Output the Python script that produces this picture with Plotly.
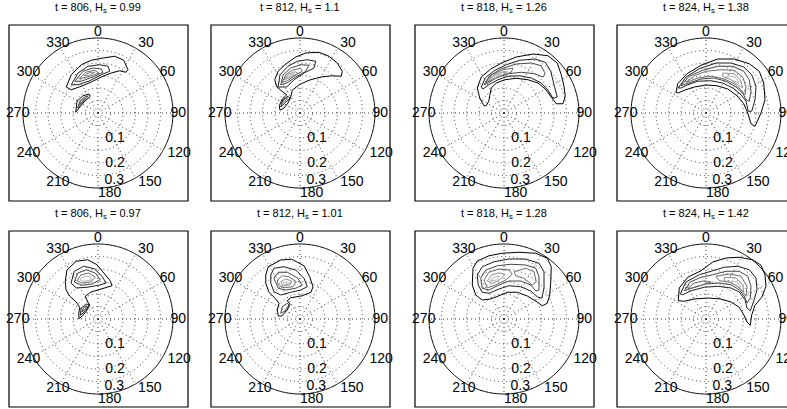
import numpy as np
import plotly.graph_objects as go

# ---------------- data ----------------
titles = [
    "t = 806, H<sub>s</sub> = 0.99", "t = 812, H<sub>s</sub> = 1.1",
    "t = 818, H<sub>s</sub> = 1.26", "t = 824, H<sub>s</sub> = 1.38",
    "t = 806, H<sub>s</sub> = 0.97", "t = 812, H<sub>s</sub> = 1.01",
    "t = 818, H<sub>s</sub> = 1.28", "t = 824, H<sub>s</sub> = 1.42",
]
direction_ticks = list(range(0, 360, 30))
freq_grid = [0.05, 0.1, 0.15, 0.2, 0.25]
freq_label_values = [0.1, 0.2, 0.3]
freq_max = 0.3

# contour vertices: (level index, east component fx [Hz], north component fy [Hz])
contours_806a = [
    (0, [-0.127, -0.107, -0.067, -0.027, 0.020, 0.067, 0.103, 0.120, 0.111, 0.087, 0.053, 0.013, -0.027, -0.067, -0.107, -0.127],
        [0.104, 0.153, 0.193, 0.211, 0.220, 0.227, 0.211, 0.173, 0.163, 0.169, 0.160, 0.144, 0.124, 0.107, 0.093, 0.104]),
    (1, [-0.107, -0.080, -0.040, 0.007, 0.040, 0.047, 0.013, -0.033, -0.080, -0.107],
        [0.113, 0.160, 0.187, 0.193, 0.187, 0.167, 0.153, 0.129, 0.113, 0.113]),
    (2, [-0.093, -0.060, -0.020, 0.013, 0.020, -0.020, -0.067, -0.093],
        [0.127, 0.167, 0.180, 0.176, 0.163, 0.144, 0.127, 0.127]),
    (3, [-0.076, -0.049, -0.013, 0.003, -0.031, -0.076],
        [0.137, 0.163, 0.171, 0.160, 0.147, 0.137]),
    (4, [-0.057, -0.036, -0.013, -0.033, -0.057],
        [0.149, 0.161, 0.163, 0.152, 0.149]),
    (0, [-0.089, -0.084, -0.060, -0.036, -0.031, -0.053, -0.073, -0.089],
        [0.003, 0.047, 0.069, 0.076, 0.067, 0.047, 0.024, 0.003]),
    (2, [-0.081, -0.073, -0.053, -0.041, -0.060, -0.081],
        [0.020, 0.047, 0.064, 0.067, 0.044, 0.020]),
    (3, [-0.076, -0.065, -0.052, -0.063, -0.076],
        [0.033, 0.051, 0.059, 0.043, 0.033]),
]
contours_812a = [
    (0, [-0.080, -0.083, -0.071, -0.053, -0.067, -0.093, -0.101, -0.088, -0.057, -0.017, 0.023, 0.076, 0.116, 0.149, 0.169, 0.165, 0.129, 0.083, 0.036, -0.004, -0.031, -0.037, -0.048, -0.064, -0.080],
        [0.011, 0.029, 0.056, 0.073, 0.083, 0.104, 0.133, 0.167, 0.196, 0.224, 0.240, 0.243, 0.227, 0.200, 0.167, 0.147, 0.149, 0.144, 0.131, 0.113, 0.091, 0.064, 0.040, 0.020, 0.011]),
    (1, [-0.088, -0.080, -0.048, -0.011, 0.029, 0.063, 0.056, 0.016, -0.024, -0.053, -0.088],
        [0.104, 0.153, 0.187, 0.207, 0.213, 0.207, 0.180, 0.160, 0.133, 0.104, 0.104]),
    (2, [-0.077, -0.067, -0.037, 0.003, 0.036, 0.023, -0.017, -0.053, -0.077],
        [0.113, 0.153, 0.180, 0.193, 0.191, 0.167, 0.144, 0.120, 0.113]),
    (3, [-0.071, -0.057, -0.031, 0.003, 0.009, -0.021, -0.051, -0.071],
        [0.123, 0.153, 0.171, 0.179, 0.167, 0.149, 0.129, 0.123]),
    (4, [-0.064, -0.048, -0.021, -0.008, -0.037, -0.064],
        [0.133, 0.155, 0.165, 0.160, 0.143, 0.133]),
    (5, [-0.057, -0.040, -0.021, -0.040, -0.057],
        [0.139, 0.153, 0.157, 0.145, 0.139]),
    (1, [-0.077, -0.069, -0.048, -0.040, -0.061, -0.077],
        [0.024, 0.053, 0.067, 0.059, 0.040, 0.024]),
    (3, [-0.072, -0.061, -0.048, -0.061, -0.072],
        [0.040, 0.056, 0.061, 0.047, 0.040]),
]
contours_818a = [
    (0, [-0.080, -0.097, -0.107, -0.091, -0.053, -0.004, 0.049, 0.116, 0.176, 0.213, 0.229, 0.240, 0.245, 0.236, 0.209, 0.189, 0.165, 0.136, 0.096, 0.049, 0.003, -0.031, -0.051, -0.057, -0.061, -0.071, -0.080],
        [0.029, 0.060, 0.100, 0.144, 0.176, 0.203, 0.224, 0.236, 0.229, 0.200, 0.153, 0.107, 0.067, 0.037, 0.037, 0.064, 0.096, 0.120, 0.133, 0.139, 0.133, 0.120, 0.100, 0.069, 0.047, 0.029, 0.029]),
    (1, [-0.091, -0.075, -0.040, 0.009, 0.063, 0.123, 0.165, 0.187, 0.200, 0.213, 0.196, 0.176, 0.149, 0.109, 0.063, 0.016, -0.024, -0.061, -0.084, -0.091],
        [0.104, 0.140, 0.169, 0.193, 0.211, 0.216, 0.203, 0.167, 0.113, 0.064, 0.059, 0.091, 0.120, 0.140, 0.149, 0.147, 0.133, 0.113, 0.096, 0.104]),
    (2, [-0.080, -0.057, -0.011, 0.049, 0.109, 0.149, 0.165, 0.156, 0.123, 0.069, 0.016, -0.031, -0.064, -0.080],
        [0.113, 0.149, 0.177, 0.196, 0.200, 0.189, 0.157, 0.144, 0.157, 0.163, 0.157, 0.140, 0.120, 0.113]),
    (3, [-0.075, -0.048, -0.004, 0.036, 0.029, -0.011, -0.051, -0.075],
        [0.120, 0.153, 0.173, 0.180, 0.163, 0.149, 0.131, 0.120]),
    (4, [-0.067, -0.040, -0.004, 0.013, -0.013, -0.048, -0.067],
        [0.127, 0.152, 0.165, 0.165, 0.149, 0.133, 0.127]),
    (5, [-0.061, -0.035, -0.011, -0.037, -0.061],
        [0.133, 0.149, 0.157, 0.141, 0.133]),
]
contours_824a = [
    (0, [-0.120, -0.113, -0.076, -0.020, 0.047, 0.113, 0.173, 0.213, 0.231, 0.236, 0.220, 0.196, 0.180, 0.167, 0.151, 0.124, 0.087, 0.044, 0.000, -0.047, -0.087, -0.111, -0.120],
        [0.083, 0.117, 0.157, 0.191, 0.216, 0.216, 0.197, 0.167, 0.120, 0.053, 0.000, -0.053, -0.043, 0.000, 0.037, 0.069, 0.096, 0.109, 0.112, 0.104, 0.091, 0.080, 0.083]),
    (1, [-0.111, -0.080, -0.027, 0.040, 0.100, 0.151, 0.183, 0.200, 0.196, 0.183, 0.169, 0.160, 0.140, 0.107, 0.067, 0.020, -0.033, -0.073, -0.100, -0.111],
        [0.100, 0.144, 0.177, 0.200, 0.200, 0.184, 0.153, 0.107, 0.053, 0.007, 0.007, 0.047, 0.073, 0.100, 0.120, 0.129, 0.127, 0.113, 0.100, 0.100]),
    (2, [-0.100, -0.067, -0.013, 0.047, 0.107, 0.151, 0.173, 0.180, 0.173, 0.160, 0.147, 0.120, 0.080, 0.033, -0.020, -0.060, -0.100],
        [0.109, 0.147, 0.171, 0.187, 0.187, 0.167, 0.133, 0.087, 0.047, 0.053, 0.080, 0.104, 0.127, 0.140, 0.136, 0.123, 0.109]),
    (3, [-0.080, -0.047, 0.000, 0.060, 0.113, 0.147, 0.160, 0.156, 0.140, 0.113, 0.073, 0.020, -0.033, -0.067, -0.080],
        [0.123, 0.149, 0.167, 0.173, 0.171, 0.144, 0.104, 0.073, 0.093, 0.117, 0.136, 0.147, 0.140, 0.127, 0.123]),
    (4, [0.067, 0.113, 0.137, 0.147, 0.127, 0.100, 0.067, 0.067],
        [0.160, 0.157, 0.133, 0.100, 0.113, 0.133, 0.147, 0.160]),
    (5, [0.087, 0.116, 0.133, 0.113, 0.087, 0.087],
        [0.149, 0.144, 0.120, 0.127, 0.140, 0.149]),
]
contours_806b = [
    (0, [-0.131, -0.124, -0.087, -0.041, -0.004, 0.023, 0.049, 0.056, 0.016, -0.028, -0.051, -0.041, -0.033, -0.047, -0.064, -0.076, -0.077, -0.073, -0.087, -0.113, -0.128, -0.131],
        [0.151, 0.197, 0.231, 0.237, 0.217, 0.184, 0.153, 0.133, 0.121, 0.108, 0.091, 0.068, 0.055, 0.031, 0.011, 0.001, 0.024, 0.047, 0.068, 0.091, 0.117, 0.151]),
    (1, [-0.108, -0.095, -0.057, -0.015, 0.016, 0.033, 0.003, -0.044, -0.087, -0.108],
        [0.144, 0.191, 0.211, 0.201, 0.171, 0.144, 0.135, 0.127, 0.124, 0.144]),
    (2, [-0.095, -0.081, -0.047, -0.011, 0.009, -0.024, -0.064, -0.095],
        [0.148, 0.184, 0.197, 0.184, 0.157, 0.140, 0.135, 0.148]),
    (3, [-0.084, -0.068, -0.037, -0.011, -0.031, -0.064, -0.084],
        [0.153, 0.177, 0.184, 0.167, 0.148, 0.144, 0.153]),
    (5, [-0.073, -0.055, -0.031, -0.028, -0.057, -0.073],
        [0.157, 0.171, 0.171, 0.156, 0.151, 0.157]),
    (1, [-0.071, -0.067, -0.047, -0.036, -0.049, -0.071],
        [0.015, 0.044, 0.060, 0.057, 0.033, 0.015]),
    (2, [-0.065, -0.057, -0.044, -0.052, -0.065],
        [0.028, 0.047, 0.053, 0.037, 0.028]),
]
contours_812b = [
    (0, [-0.137, -0.127, -0.077, -0.033, 0.016, 0.039, 0.052, 0.044, 0.009, -0.037, -0.051, -0.040, -0.051, -0.073, -0.087, -0.091, -0.084, -0.100, -0.124, -0.137, -0.137],
        [0.176, 0.209, 0.236, 0.239, 0.213, 0.169, 0.129, 0.107, 0.093, 0.085, 0.073, 0.059, 0.036, 0.012, 0.012, 0.036, 0.063, 0.083, 0.107, 0.143, 0.176]),
    (1, [-0.117, -0.104, -0.064, -0.017, 0.016, 0.029, 0.003, -0.037, -0.077, -0.104, -0.117, -0.117],
        [0.176, 0.203, 0.209, 0.196, 0.163, 0.129, 0.116, 0.107, 0.096, 0.109, 0.143, 0.176]),
    (2, [-0.104, -0.087, -0.051, -0.011, 0.009, -0.017, -0.057, -0.087, -0.104],
        [0.163, 0.187, 0.187, 0.165, 0.136, 0.123, 0.116, 0.123, 0.163]),
    (3, [-0.091, -0.071, -0.044, -0.015, -0.028, -0.064, -0.087, -0.091],
        [0.156, 0.173, 0.169, 0.149, 0.129, 0.125, 0.136, 0.156]),
    (4, [-0.077, -0.057, -0.033, -0.041, -0.068, -0.077],
        [0.149, 0.160, 0.152, 0.136, 0.133, 0.149]),
    (5, [-0.067, -0.051, -0.041, -0.060, -0.067],
        [0.145, 0.149, 0.141, 0.137, 0.145]),
    (2, [-0.077, -0.071, -0.051, -0.044, -0.060, -0.077],
        [0.023, 0.049, 0.063, 0.056, 0.032, 0.023]),
]
contours_818b = [
    (0, [-0.124, -0.107, -0.060, -0.007, 0.060, 0.127, 0.173, 0.189, 0.187, 0.183, 0.173, 0.153, 0.127, 0.093, 0.053, 0.013, -0.020, -0.053, -0.087, -0.113, -0.127, -0.124],
        [0.203, 0.232, 0.253, 0.263, 0.267, 0.263, 0.243, 0.209, 0.149, 0.096, 0.063, 0.053, 0.072, 0.092, 0.107, 0.107, 0.093, 0.080, 0.076, 0.096, 0.136, 0.203]),
    (1, [-0.107, -0.087, -0.040, 0.020, 0.087, 0.140, 0.160, 0.160, 0.151, 0.133, 0.107, 0.067, 0.020, -0.020, -0.060, -0.087, -0.103, -0.107],
        [0.176, 0.209, 0.229, 0.240, 0.240, 0.223, 0.189, 0.123, 0.083, 0.089, 0.112, 0.129, 0.133, 0.120, 0.103, 0.107, 0.136, 0.176]),
    (2, [-0.093, -0.073, -0.027, 0.027, 0.087, 0.127, 0.140, 0.140, 0.127, 0.107, 0.067, 0.020, -0.020, -0.060, -0.087, -0.093],
        [0.163, 0.196, 0.213, 0.219, 0.216, 0.203, 0.169, 0.116, 0.112, 0.136, 0.152, 0.152, 0.136, 0.116, 0.123, 0.163]),
    (3, [-0.080, -0.060, -0.020, 0.020, 0.033, 0.007, -0.033, -0.067, -0.080],
        [0.156, 0.187, 0.200, 0.196, 0.179, 0.156, 0.136, 0.125, 0.156]),
    (3, [0.040, 0.087, 0.120, 0.129, 0.113, 0.080, 0.047, 0.040],
        [0.189, 0.203, 0.189, 0.149, 0.136, 0.163, 0.173, 0.189]),
    (4, [-0.067, -0.049, -0.020, 0.004, -0.013, -0.044, -0.067],
        [0.152, 0.176, 0.185, 0.179, 0.160, 0.143, 0.152]),
    (5, [-0.057, -0.040, -0.017, -0.031, -0.057],
        [0.152, 0.167, 0.172, 0.156, 0.152]),
]
contours_824b = [
    (0, [-0.111, -0.107, -0.073, -0.020, 0.027, 0.080, 0.133, 0.187, 0.220, 0.236, 0.240, 0.223, 0.196, 0.183, 0.177, 0.164, 0.151, 0.133, 0.100, 0.060, 0.007, -0.047, -0.087, -0.111],
        [0.073, 0.124, 0.167, 0.193, 0.228, 0.244, 0.247, 0.237, 0.215, 0.177, 0.131, 0.087, 0.055, 0.017, -0.025, -0.012, 0.017, 0.047, 0.068, 0.080, 0.084, 0.080, 0.071, 0.073]),
    (1, [-0.103, -0.080, -0.027, 0.020, 0.073, 0.127, 0.173, 0.200, 0.204, 0.191, 0.177, 0.164, 0.156, 0.133, 0.100, 0.047, -0.007, -0.060, -0.093, -0.103],
        [0.100, 0.148, 0.177, 0.191, 0.207, 0.211, 0.197, 0.164, 0.117, 0.071, 0.033, 0.044, 0.077, 0.108, 0.124, 0.131, 0.127, 0.113, 0.097, 0.100]),
    (2, [-0.087, -0.063, -0.020, 0.027, 0.080, 0.133, 0.167, 0.180, 0.177, 0.164, 0.153, 0.133, 0.100, 0.053, 0.000, -0.047, -0.087],
        [0.113, 0.148, 0.167, 0.177, 0.191, 0.191, 0.171, 0.131, 0.084, 0.064, 0.091, 0.117, 0.137, 0.144, 0.140, 0.127, 0.113]),
    (3, [0.040, 0.093, 0.140, 0.164, 0.160, 0.147, 0.127, 0.093, 0.053, 0.040],
        [0.171, 0.180, 0.171, 0.131, 0.091, 0.108, 0.131, 0.148, 0.153, 0.171]),
    (4, [0.073, 0.120, 0.147, 0.151, 0.133, 0.107, 0.073, 0.073],
        [0.167, 0.164, 0.137, 0.108, 0.124, 0.144, 0.153, 0.167]),
    (5, [0.100, 0.127, 0.140, 0.124, 0.100, 0.100],
        [0.153, 0.148, 0.127, 0.132, 0.143, 0.153]),
    (3, [-0.073, -0.047, -0.007, 0.020, -0.013, -0.053, -0.073],
        [0.121, 0.144, 0.153, 0.148, 0.137, 0.124, 0.121]),
]

panels = [contours_806a, contours_812a, contours_818a, contours_824a,
          contours_806b, contours_812b, contours_818b, contours_824b]

# ---------------- styling ----------------
level_colors = ["#000000", "#1e1e1e", "#454545", "#6a6a6a", "#8f8f8f", "#b4b4b4"]
W, H = 787, 409
R = 75                      # pixel radius of the freq_max circle
range_pad = 1.08            # radial range extends past the outer circle for labels
centers_x = [98, 300, 504, 706]
centers_y = [113, 319]
FONT = "Liberation Sans, Arial, sans-serif"
GRID_DASH = "1px,3px"
GRID_COLOR = "#3a3a3a"
dir_label_factor = 1.07
dir_label_positions = ["middle center", "middle right", "middle center", "middle center",
                       "middle right", "middle right", "middle right", "middle center",
                       "middle center", "middle center", "middle center", "middle center"]
freq_label_theta = [180, 180, 175]
freq_label_positions = ["middle right", "middle right", "top right"]
freq_label_pad = [10, 10, 0]   # invisible marker sizes used only to offset the labels

fig = go.Figure()
layout = dict(
    width=W, height=H, margin=dict(l=0, r=0, t=0, b=0),
    paper_bgcolor="white", plot_bgcolor="white", showlegend=False,
    hovermode=False, font=dict(family=FONT, color="black"),
)
shapes, annotations = [], []

circle_theta = np.arange(0, 361, 1)
spoke_r, spoke_t = [], []
for d in direction_ticks:
    spoke_r += [0, freq_max, None]
    spoke_t += [d, d, None]

for i, contours in enumerate(panels):
    row, col = divmod(i, 4)
    cx, cy = centers_x[col], centers_y[row]
    pid = "polar" if i == 0 else f"polar{i + 1}"
    # dotted direction spokes, ending on the outer circle
    fig.add_trace(go.Scatterpolar(
        r=spoke_r, theta=spoke_t, mode="lines", subplot=pid,
        line=dict(color=GRID_COLOR, width=1, dash=GRID_DASH),
        hoverinfo="skip", showlegend=False, connectgaps=False,
    ))
    # solid outer circle at freq_max
    fig.add_trace(go.Scatterpolar(
        r=[freq_max] * len(circle_theta), theta=circle_theta, mode="lines",
        subplot=pid, line=dict(color="black", width=1),
        hoverinfo="skip", showlegend=False,
    ))
    for lev, fx, fy in contours:
        fx = np.asarray(fx)
        fy = np.asarray(fy)
        theta = np.degrees(np.arctan2(fx, fy)) % 360
        r = np.hypot(fx, fy)
        fig.add_trace(go.Scatterpolar(
            r=r, theta=theta, mode="lines", subplot=pid,
            line=dict(color=level_colors[lev], width=1.0),
            hoverinfo="skip", showlegend=False,
        ))
    # direction labels (straddling the outer circle)
    fig.add_trace(go.Scatterpolar(
        r=[freq_max * dir_label_factor] * len(direction_ticks),
        theta=direction_ticks, text=[str(d) for d in direction_ticks],
        mode="text", textposition=dir_label_positions, cliponaxis=False,
        textfont=dict(size=14, color="black", family=FONT),
        subplot=pid, hoverinfo="skip", showlegend=False,
    ))
    # frequency labels along the 180 direction
    fig.add_trace(go.Scatterpolar(
        r=freq_label_values, theta=freq_label_theta,
        text=[f"{v:g}" for v in freq_label_values],
        mode="markers+text", textposition=freq_label_positions, cliponaxis=False,
        marker=dict(size=freq_label_pad, color="rgba(0,0,0,0)"),
        textfont=dict(size=14, color="black", family=FONT),
        subplot=pid, hoverinfo="skip", showlegend=False,
    ))
    Rd = R * range_pad
    layout[pid] = dict(
        domain=dict(x=[max(0.0, (cx - Rd) / W), min(1.0, (cx + Rd) / W)],
                    y=[1 - (cy + Rd) / H, 1 - (cy - Rd) / H]),
        bgcolor="rgba(0,0,0,0)",
        radialaxis=dict(
            range=[0, freq_max * range_pad], tickvals=freq_grid,
            showticklabels=False, angle=-90, showline=False, ticks="",
            showgrid=True, gridcolor=GRID_COLOR, gridwidth=1, griddash=GRID_DASH,
        ),
        angularaxis=dict(
            rotation=90, direction="clockwise",
            tickvals=direction_ticks, showticklabels=False,
            ticks="", showline=False, showgrid=False,
        ),
    )
    shapes.append(dict(
        type="rect", xref="paper", yref="paper",
        x0=(cx - 89) / W, x1=(cx + 90) / W,
        y0=1 - (cy + 88) / H, y1=1 - (cy - 88) / H,
        line=dict(color="black", width=1.2), fillcolor="rgba(0,0,0,0)",
    ))
    annotations.append(dict(
        text=titles[i], xref="paper", yref="paper",
        x=cx / W, y=1 - (cy - 105) / H, xanchor="center", yanchor="middle",
        showarrow=False, font=dict(size=11, color="black", family=FONT),
    ))

layout["shapes"] = shapes
layout["annotations"] = annotations
fig.update_layout(**layout)
fig.write_html("out.html")
